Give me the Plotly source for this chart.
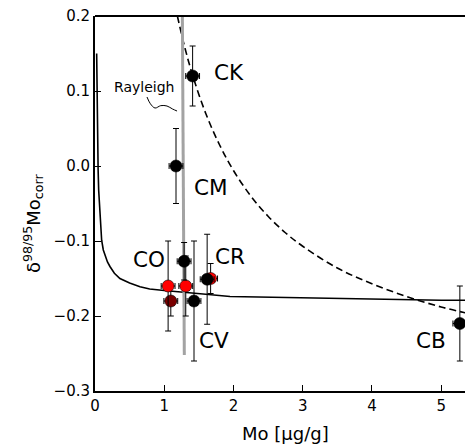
import plotly.graph_objects as go

# ---- data ----
# mixing curve (solid)
mix_x = [0.024, 0.028, 0.033, 0.045, 0.053, 0.072, 0.096, 0.12, 0.145, 0.18, 0.216, 0.28, 0.36,
         0.5, 0.65, 0.79, 1.0, 1.3, 1.6, 1.95, 2.5, 3.0, 3.5, 4.0, 4.5, 5.0, 5.46]
mix_y = [0.150, 0.09, 0.035, -0.005, -0.032, -0.068, -0.099, -0.112, -0.119, -0.128, -0.134, -0.143,
         -0.150, -0.156, -0.161, -0.164, -0.166, -0.169, -0.171, -0.174, -0.175, -0.176, -0.177,
         -0.178, -0.178, -0.179, -0.179]

# second model curve (dashed)
dash_x = [1.19, 1.3, 1.42, 1.6, 1.8, 2.0, 2.25, 2.5, 2.75, 3.0, 3.5, 4.0, 4.5, 5.0, 5.46]
dash_y = [0.200, 0.157, 0.118, 0.070, 0.028, -0.006, -0.040, -0.067, -0.089, -0.107, -0.136,
          -0.157, -0.174, -0.188, -0.198]

# Rayleigh line (grey)
ray_x = [1.262, 1.29]
ray_y = [0.2, -0.252]

# samples
black_x = [1.41, 1.17, 1.287, 1.43, 1.62, 5.27]
black_y = [0.12, 0.0, -0.127, -0.18, -0.151, -0.21]
black_yerr = [0.04, 0.05, 0.025, 0.08, 0.06, 0.05]
black_xerr = [0.1, 0.1, 0.1, 0.1, 0.1, 0.1]

red_x = [1.056, 1.311, 1.67]
red_y = [-0.16, -0.16, -0.15]
red_yerr = [0.06, 0.04, 0.02]
red_xerr = [0.1, 0.1, 0.1]

dred_x = [1.095]
dred_y = [-0.18]
dred_yerr = [0.02]
dred_xerr = [0.1]

# labels
lab_text = ["CK", "CM", "CO", "CR", "CV", "CB"]
lab_x = [1.69, 1.40, 0.52, 1.70, 1.47, 4.61]
lab_y = [0.125, -0.028, -0.125, -0.120, -0.232, -0.232]

# Rayleigh curly arrow
arr_x = [0.751, 0.80, 0.867, 0.95, 1.040, 1.12, 1.185]
arr_y = [0.092, 0.083, 0.0773, 0.0805, 0.080, 0.076, 0.0733]

FONT = "DejaVu Sans"
# page body has an 8px margin; the plot area spans px 95..473 x 16..391 in the window
OFF = 8
L, T, R, B = 95 - OFF, 16 - OFF, 0, 56
W, H = 473 - OFF, 447 - OFF
PW, PH = W - L - R, H - T - B


def px_x(px):
    return (px - OFF - L) / PW


def px_y(py):
    return (H - B - (py - OFF)) / PH


fig = go.Figure()

fig.add_trace(go.Scatter(x=mix_x, y=mix_y, mode="lines", line=dict(color="black", width=1.6),
                         hoverinfo="skip", showlegend=False))
fig.add_trace(go.Scatter(x=dash_x, y=dash_y, mode="lines",
                         line=dict(color="black", width=1.6, dash="7px,4px", shape="spline"),
                         hoverinfo="skip", showlegend=False))
fig.add_trace(go.Scatter(x=ray_x, y=ray_y, mode="lines", line=dict(color="#a3a3a3", width=3),
                         hoverinfo="skip", showlegend=False))
fig.add_trace(go.Scatter(x=arr_x, y=arr_y, mode="lines",
                         line=dict(color="black", width=1, shape="spline"),
                         hoverinfo="skip", showlegend=False))


def pts(x, y, xe, ye, color):
    fig.add_trace(go.Scatter(
        x=x, y=y, mode="markers",
        marker=dict(color=color, size=12, line=dict(color="black", width=0.6)),
        error_y=dict(type="data", array=ye, color="black", thickness=1, width=3),
        error_x=dict(type="data", array=xe, color="black", thickness=1, width=3),
        showlegend=False, hoverinfo="skip"))


pts(dred_x, dred_y, dred_xerr, dred_yerr, "#7a0000")
pts(red_x, red_y, red_xerr, red_yerr, "#ff0000")
pts(black_x, black_y, black_xerr, black_yerr, "black")

annotations = []
for t, x, y in zip(lab_text, lab_x, lab_y):
    annotations.append(dict(x=x, y=y, xref="x", yref="y", text=t, showarrow=False,
                            xanchor="left", yanchor="middle",
                            font=dict(family=FONT, size=21.5, color="black")))
annotations.append(dict(x=0.708, y=0.106, xref="x", yref="y", text="Rayleigh", showarrow=False,
                        xanchor="center", yanchor="middle",
                        font=dict(family=FONT, size=14, color="black")))
# arrow head
annotations.append(dict(x=1.243, y=0.064, xref="x", yref="y", text=" ", showarrow=True,
                        ax=-4, ay=-7, arrowhead=2, arrowsize=1.2, arrowwidth=1,
                        arrowcolor="black"))
# axis titles
annotations.append(dict(x=px_x(285), y=px_y(433), xref="paper", yref="paper",
                        text="Mo [µg/g]", showarrow=False, xanchor="center", yanchor="middle",
                        font=dict(family=FONT, size=18, color="black")))
annotations.append(dict(x=px_x(33), y=px_y(224), xref="paper", yref="paper",
                        text="δ<sup>98/95</sup>Mo<sub>corr</sub>", showarrow=False, textangle=-90,
                        xanchor="center", yanchor="middle",
                        font=dict(family=FONT, size=18, color="black")))

fig.update_layout(
    width=W, height=H,
    margin=dict(l=L, r=R, t=T, b=B, pad=0),
    paper_bgcolor="white", plot_bgcolor="white",
    font=dict(family=FONT, color="black"),
    annotations=annotations,
    shapes=[dict(type="line", xref="paper", yref="paper", x0=0, x1=1, y0=1, y1=1,
                 line=dict(color="black", width=2))],
    xaxis=dict(range=[0, 5.46], tickvals=[0, 1, 2, 3, 4, 5], ticks="inside", ticklen=6,
               tickwidth=1.3, tickcolor="black", showline=True, linewidth=2, linecolor="black",
               showgrid=False, zeroline=False, tickfont=dict(family=FONT, size=15),
               ticklabeloverflow="allow"),
    yaxis=dict(range=[-0.3, 0.2], tickvals=[-0.3, -0.2, -0.1, 0.0, 0.1, 0.2],
               ticktext=["\u22120.3", "\u22120.2", "\u22120.1", "0.0", "0.1", "0.2"],
               ticks="inside", ticklen=6, tickwidth=1.3, tickcolor="black", showline=True,
               linewidth=2, linecolor="black", showgrid=False, zeroline=False,
               tickfont=dict(family=FONT, size=15), ticklabeloverflow="allow"),
)

fig.write_html("out.html")
